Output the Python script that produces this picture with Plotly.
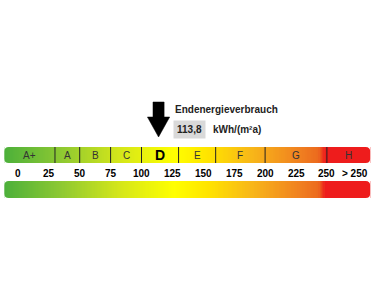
import numpy as np
import plotly.graph_objects as go

# ---- data ----
classes = ["A+", "A", "B", "C", "D", "E", "F", "G", "H"]
class_bounds = [-11, 30, 50, 75, 100, 130, 160, 200, 250, 285]
tick_values = [0, 25, 50, 75, 100, 125, 150, 175, 200, 225, 250, 273]
tick_labels = ["0", "25", "50", "75", "100", "125", "150", "175", "200", "225", "250", "> 250"]
value = 113.8
value_label = "113,8"
unit_label = "kWh/(m²a)"
title_label = "Endenergieverbrauch"
current_class = "D"

# gradient colour stops (value, colour)
grad_stops = [(-11, "#4cb03a"), (34, "#8cc832"), (82, "#d4e61a"), (127, "#ffff00"),
              (155, "#ffe200"), (188, "#f8b818"), (228, "#f08020"), (243, "#ec6a1e"),
              (248.5, "#ee1c1c"), (285, "#ee1c1c")]

FONT = "Liberation Sans, Arial, sans-serif"
PX = 1.236  # pixels per value unit (layout scale)

vmin, vmax = class_bounds[0], class_bounds[-1]
cs = [[(v - vmin) / (vmax - vmin), c] for v, c in grad_stops]
edges = np.linspace(vmin, vmax, 297)
centers = (edges[:-1] + edges[1:]) / 2

fig = go.Figure()

def corner_masks(y0, y1, r=4.5):
    rx = r / PX
    paths = []
    for (xc, sx) in ((vmin, 1), (vmax, -1)):
        for (yc, sy) in ((y0, 1), (y1, -1)):
            paths.append(f"M{xc},{yc} L{xc + sx * rx},{yc} Q{xc},{yc} {xc},{yc + sy * r} Z")
    for p in paths:
        fig.add_shape(type="path", path=p, xref="x", yref="y", fillcolor="white",
                      line=dict(width=0), layer="above")

def bar(y0, y1):
    fig.add_trace(go.Heatmap(x=edges, y=[y0, y1], z=[centers], colorscale=cs,
                             zmin=vmin, zmax=vmax, showscale=False, hoverinfo="skip"))
    corner_masks(y0, y1)

bar(147, 163)   # class bar
bar(181, 198)   # scale bar

# separators between classes
for b in class_bounds[1:-1]:
    fig.add_shape(type="line", x0=b, x1=b, y0=147, y1=163, xref="x", yref="y",
                  line=dict(color="#222222", width=1))

# class letters
for i, c in enumerate(classes):
    xc = (class_bounds[i] + class_bounds[i + 1]) / 2
    big = c == current_class
    fig.add_annotation(x=xc, y=155, xref="x", yref="y", text=f"<b>{c}</b>" if big else c,
                       showarrow=False,
                       font=dict(family=FONT, size=14 if big else 10,
                                 color="#000000" if big else "#333333"))

# tick labels
for v, t in zip(tick_values, tick_labels):
    fig.add_annotation(x=v, y=173, xref="x", yref="y", text=f"<b>{t}</b>", showarrow=False,
                       font=dict(family=FONT, size=10, color="#000000"))

# arrow at value
sw, hw = 4.5, 9.0
ax = [value - sw, value + sw, value + sw, value + hw, value, value - hw, value - sw, value - sw]
ay = [102, 102, 117, 117, 137, 117, 117, 102]
fig.add_trace(go.Scatter(x=ax, y=ay, fill="toself", fillcolor="#000000", mode="lines",
                         line=dict(color="#000000", width=0.5), hoverinfo="skip", showlegend=False))

# title and value
fig.add_annotation(x=173 / 375, y=109, xref="paper", yref="y", xanchor="left",
                   text=f"<b>{title_label}</b>", showarrow=False,
                   font=dict(family=FONT, size=10, color="#222222"))
fig.add_annotation(x=173 / 375, y=129.5, xref="paper", yref="y", xanchor="left",
                   text=f"<b>{value_label}</b>", showarrow=False, bgcolor="#d9d9d9",
                   borderpad=3, font=dict(family=FONT, size=10, color="#222222"))
fig.add_annotation(x=211 / 375, y=129.5, xref="paper", yref="y", xanchor="left",
                   text=f"<b>{unit_label}</b>", showarrow=False,
                   font=dict(family=FONT, size=10, color="#222222"))

x0 = -17.9 / PX
x1 = (375 - 17.9) / PX
fig.update_layout(width=375, height=300, margin=dict(l=0, r=0, t=0, b=0),
                  paper_bgcolor="white", plot_bgcolor="white", showlegend=False,
                  xaxis=dict(range=[x0, x1], visible=False, fixedrange=True),
                  yaxis=dict(range=[300, 0], visible=False, fixedrange=True))

fig.write_html("out.html")
